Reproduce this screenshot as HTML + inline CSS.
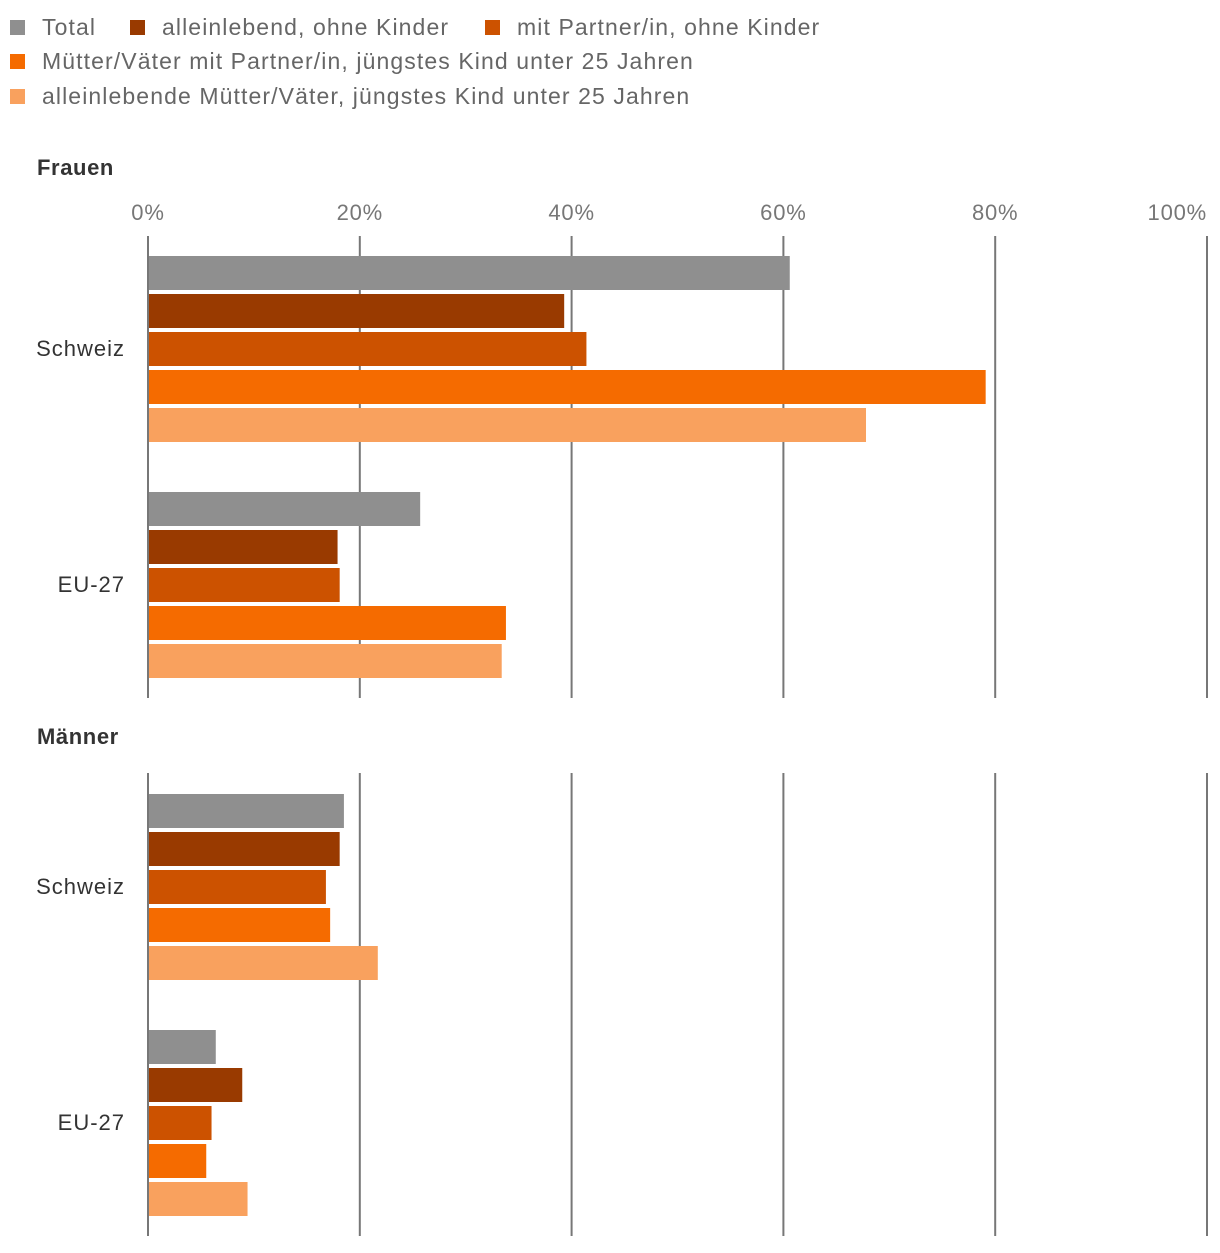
<!DOCTYPE html>
<html><head><meta charset="utf-8"><style>
body{margin:0;background:#fff;width:1220px;height:1248px;overflow:hidden;font-family:"Liberation Sans",sans-serif}
</style></head><body>
<svg id="c" width="1220" height="1248" xmlns="http://www.w3.org/2000/svg"></svg>
<script>
const series=["Total","alleinlebend, ohne Kinder","mit Partner/in, ohne Kinder","Mütter/Väter mit Partner/in, jüngstes Kind unter 25 Jahren","alleinlebende Mütter/Väter, jüngstes Kind unter 25 Jahren"];
const colors=["#8f8f8f","#993a00","#cc5200","#f56b00","#f9a15e"];
const categories=["Schweiz","EU-27"];
const ticks=[0,20,40,60,80,100];
const frauenSchweiz=[60.6,39.3,41.4,79.1,67.8];
const frauenEU=[25.7,17.9,18.1,33.8,33.4];
const maennerSchweiz=[18.5,18.1,16.8,17.2,21.7];
const maennerEU=[6.4,8.9,6.0,5.5,9.4];
const panels=[{title:"Frauen",data:[frauenSchweiz,frauenEU],top:236,bottom:698,titleY:175,axis:true},
{title:"Männer",data:[maennerSchweiz,maennerEU],top:773,bottom:1236,titleY:744,axis:false}];
const svg=document.getElementById('c');const NS="http://www.w3.org/2000/svg";
function el(t,a,txt){const e=document.createElementNS(NS,t);for(const k in a)e.setAttribute(k,a[k]);if(txt!==undefined)e.textContent=txt;svg.appendChild(e);return e;}
const x=v=>148+v*10.59;
const leg=[[10,27],[130,27],[485,27],[10,61],[10,96]];
series.forEach((s,i)=>{
 const r=el('rect',{x:leg[i][0],y:leg[i][1]-7,width:15,height:15,fill:colors[i]});
 
 
 const t=el('text',{x:leg[i][0]+32,y:leg[i][1]+8,'font-size':23,fill:'#666','letter-spacing':1.1},s);
 
 
});
panels.forEach((p,pi)=>{
 const tt=el('text',{x:37,y:p.titleY,'font-size':22,'font-weight':'bold',fill:'#333','letter-spacing':0.6},p.title);
 
 
 ticks.forEach(v=>{
  const l=el('line',{x1:x(v),x2:x(v),y1:p.top,y2:p.bottom,stroke:'#777','stroke-width':2});
  
  
  if(p.axis){
   const anchor=v===100?'end':'middle';
   const t=el('text',{x:v===100?x(v):x(v),y:220,'font-size':22,fill:'#777','text-anchor':anchor,'letter-spacing':0.8},v+'%');
   
   
  }
 });
 p.data.forEach((vals,ci)=>{
  const y0=p.top+20+ci*236+(pi===1?1:0);
  const lab=el('text',{x:125,y:y0+100,'font-size':22,fill:'#333','text-anchor':'end','letter-spacing':1},categories[ci]);
  
  
  vals.forEach((v,si)=>{
   const b=el('rect',{x:149,y:y0+si*38,width:x(v)-149,height:34,fill:colors[si]});
   
   
  });
 });
});
</script>
</body></html>
